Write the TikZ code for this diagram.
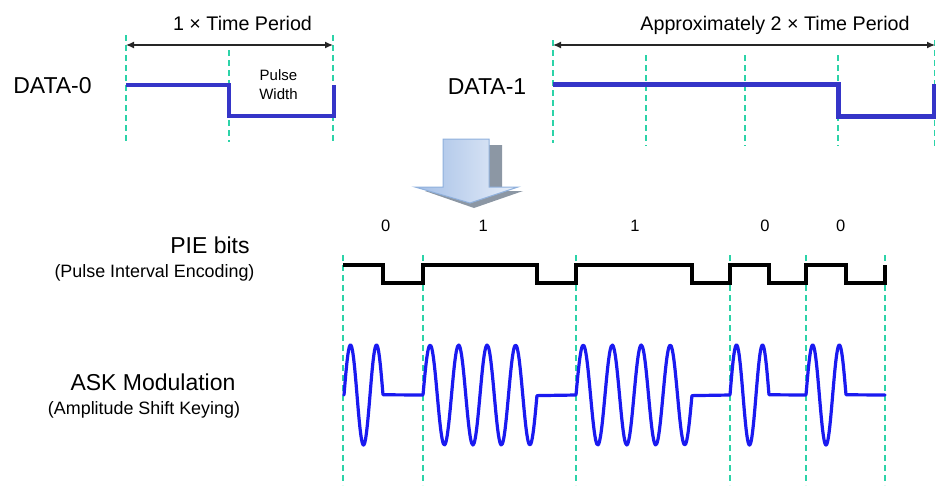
\documentclass[tikz,border=0pt]{standalone}
\usepackage{fontspec}
\setmainfont{Liberation Sans}
\usepackage{tikz}
\usetikzlibrary{arrows.meta,calc,positioning}
\definecolor{datablue}{HTML}{3535C8}
\definecolor{askblue}{HTML}{1A1AF0}
\definecolor{guide}{HTML}{2CD3A8}
\definecolor{arrowedge}{HTML}{8FB0DC}
\definecolor{arrowdark}{HTML}{A3BEE6}
\definecolor{arrowlight}{HTML}{E8EFF9}
\definecolor{shadowgray}{HTML}{8C97A4}

\begin{document}
\begin{tikzpicture}[x=1pt,y=-1pt,
    guideline/.style={guide,line width=1.3pt,dash pattern=on 6pt off 4pt},
    dimarrow/.style={black!85,line width=1.3pt,{Latex[length=8pt,width=7pt]}-{Latex[length=8pt,width=7pt]}},
    datawave/.style={datablue,line width=3.4pt,line join=miter},
    piewave/.style={black,line width=4.5pt,line join=miter},
    askwave/.style={askblue,line width=3.2pt,line join=round,line cap=round},
    bigtxt/.style={font=\fontsize{23}{27}\selectfont,inner sep=0pt},
    smalltxt/.style={font=\fontsize{17.9}{21}\selectfont,inner sep=0pt},
    dimtxt/.style={font=\fontsize{19.7}{23}\selectfont,inner sep=0pt},
    bittxt/.style={font=\fontsize{16.5}{20}\selectfont,inner sep=0pt}]
  \useasboundingbox (0,0) rectangle (936,485);

  % DATA-0
  \foreach \gx/\gt in {126/35,229/50,333/35} \draw[guideline] (\gx,\gt) -- (\gx,142);
  \coordinate (t0l) at (126,45); \coordinate (t0r) at (333,45);
  \draw[dimarrow] (t0l) -- (t0r);
  \node[dimtxt,anchor=base] (t0txt) at (242.5,30.7) {1 × Time Period};
  \node[bigtxt,anchor=base] (d0) at (52.5,93) {DATA-0};
  \draw[datawave] (126,85) -- (229,85) -- (229,116) -- (334,116) -- (334,85);
  \node[font=\fontsize{15}{19}\selectfont,inner sep=0pt,align=center] (pw) at (278.5,85) {Pulse\\Width};

  % DATA-1
  \draw[guideline] (553,40) -- (553,143);
  \foreach \gx in {646,745,838} \draw[guideline] (\gx,55) -- (\gx,146);
  \draw[guideline] (934.5,40) -- (934.5,146);
  \coordinate (t1l) at (553,45); \coordinate (t1r) at (935,45);
  \draw[dimarrow] (t1l) -- (t1r);
  \node[dimtxt,anchor=base] (t1txt) at (775,30.7) {Approximately 2 × Time Period};
  \node[bigtxt,anchor=base] (d1) at (487,94) {DATA-1};
  \draw[datawave,line width=5pt] (553,84) -- (838,84) -- (838,116.5) -- (934,116.5) -- (934,84);

  % block arrow
  \fill[shadowgray] (455,145) -- (502,145) -- (502,191) -- (523,191) -- (474,208) -- (425,191) -- (455,191) -- cycle;
  \shade[left color=arrowdark,right color=arrowlight,draw=arrowedge,line width=1pt]
    (443,139) -- (489,139) -- (489,187) -- (518,187) -- (470,203) -- (415,187) -- (443,187) -- cycle;

  % PIE bits / ASK
  \foreach \gx in {343,423,576,730,806,885} \draw[guideline] (\gx,255) -- (\gx,485);
  \foreach \bx/\bv [count=\bi] in {385.7/0,483.3/1,635/1,765/0,840.7/0}
    \node[bittxt,anchor=base] (bit\bi) at (\bx,231.7) {\bv};
  \node[bigtxt,anchor=base] (pie) at (210,253.3) {PIE bits};
  \node[smalltxt,anchor=base] (piesub) at (154.5,277.3) {(Pulse Interval Encoding)};
  \draw[piewave] (343,265) \foreach \b/\c in {383/423,537/576,692/730,769/806,846/885} { -| (\b,283) -| (\c,265) };

  \node[bigtxt,anchor=base] (ask) at (153,390) {ASK Modulation};
  \node[smalltxt,anchor=base] (asksub) at (144,414) {(Amplitude Shift Keying)};
  \draw[askwave] (344,395) \foreach \a/\b/\c/\n in {344/383/423/3,423/537/576/8,576/692/730/8,730/769/806/3,806/846/885/3}
    { -- plot[domain=0:1,samples=90,smooth] ({\a+(\b-\a)*\x},{395-50*sin(\n*180*\x)}) -- (\c,395) };
\end{tikzpicture}
\end{document}
